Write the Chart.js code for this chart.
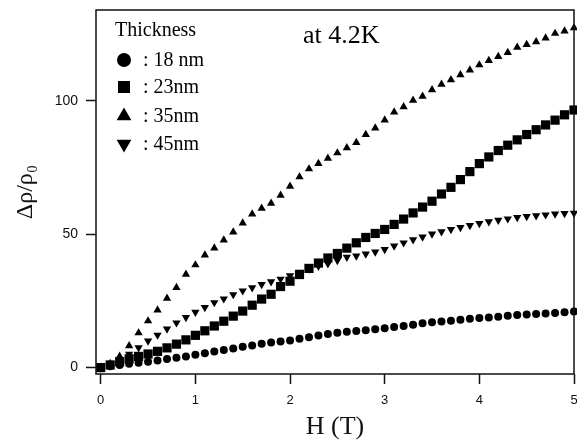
<!DOCTYPE html>
<html>
<head>
<meta charset="utf-8">
<script src="https://cdn.jsdelivr.net/npm/chart.js@4.4.0/dist/chart.umd.min.js"></script>
<style>
html, body { margin: 0; padding: 0; background: #fff; }
</style>
</head>
<body>
<canvas id="mr" width="577" height="445"></canvas>
<script>
// magnetic field H (T)
var field = [0, 0.1, 0.2, 0.3, 0.4, 0.5, 0.6, 0.7, 0.8, 0.9,
             1.0, 1.1, 1.2, 1.3, 1.4, 1.5, 1.6, 1.7, 1.8, 1.9,
             2.0, 2.1, 2.2, 2.3, 2.4, 2.5, 2.6, 2.7, 2.8, 2.9,
             3.0, 3.1, 3.2, 3.3, 3.4, 3.5, 3.6, 3.7, 3.8, 3.9,
             4.0, 4.1, 4.2, 4.3, 4.4, 4.5, 4.6, 4.7, 4.8, 4.9, 5.0];

// delta rho / rho0 for each film thickness
var mr18 = [0, 0.5, 1.0, 1.4, 1.8, 2.2, 2.7, 3.2, 3.7, 4.2,
            4.8, 5.4, 6.0, 6.6, 7.2, 7.8, 8.3, 8.9, 9.4, 9.8,
            10.2, 10.8, 11.4, 12.0, 12.6, 13.1, 13.4, 13.7, 14.0, 14.4,
            14.8, 15.2, 15.6, 16.1, 16.6, 17.0, 17.3, 17.6, 17.9, 18.3,
            18.6, 18.8, 19.1, 19.4, 19.7, 19.9, 20.1, 20.3, 20.5, 20.8, 21.0];
var mr23 = [0, 1.0, 2.2, 3.3, 4.2, 5.1, 6.1, 7.4, 8.8, 10.4,
            12.1, 13.8, 15.6, 17.4, 19.3, 21.2, 23.4, 25.7, 27.5, 30.4,
            32.4, 34.9, 37.2, 39.2, 41.1, 42.8, 44.8, 46.8, 48.8, 50.3,
            51.8, 53.7, 55.7, 58.0, 60.2, 62.4, 65.1, 67.6, 70.5, 73.5,
            76.5, 79.0, 81.4, 83.4, 85.4, 87.4, 89.2, 91.0, 92.8, 94.8, 96.6];
var mr35 = [0, 1.5, 4.2, 8.2, 13.0, 17.5, 21.6, 26.0, 30.0, 35.0,
            38.5, 42.2, 44.8, 47.8, 50.8, 54.2, 57.6, 59.7, 61.6, 64.6,
            68.0, 71.5, 74.5, 76.5, 78.5, 80.5, 82.4, 84.4, 87.4, 89.8,
            92.8, 95.8, 97.8, 100.2, 101.7, 104.2, 106.2, 107.9, 109.8, 111.6,
            113.5, 115.1, 116.6, 118.1, 120.1, 121.1, 122.2, 123.6, 125.3, 126.2, 127.4];
var mr45 = [0, 1.0, 3.0, 5.0, 7.5, 10.0, 12.2, 14.5, 16.8, 18.8,
            20.8, 22.6, 24.4, 25.8, 27.4, 28.8, 30.0, 31.2, 32.2, 33.2,
            34.5, 35.8, 37.0, 38.0, 39.0, 40.2, 41.4, 41.9, 42.6, 43.4,
            44.3, 45.6, 46.8, 48.0, 49.0, 50.1, 51.0, 51.8, 52.6, 53.3,
            54.1, 54.7, 55.3, 55.8, 56.3, 56.7, 57.0, 57.3, 57.6, 57.8, 57.9];

var thickness = ['18 nm', '23nm', '35nm', '45nm'];
var xTicks = [0, 1, 2, 3, 4, 5];
var yTicks = [0, 50, 100];

function pairs(ys) {
  return field.map(function(h, i) { return {x: h, y: ys[i]}; });
}

function series(label, ys, style, r, rot) {
  return {
    label: label,
    data: pairs(ys),
    pointStyle: style,
    pointRadius: r,
    pointRotation: rot || 0,
    pointBackgroundColor: '#000',
    pointBorderColor: '#000',
    pointBorderWidth: 0,
    showLine: false,
    clip: false
  };
}

var ink = '#111';

// frame, legend and the temperature note
var paperDecor = {
  id: 'paperDecor',
  afterDraw: function(chart) {
    var ctx = chart.ctx, a = chart.chartArea;
    ctx.save();
    ctx.strokeStyle = ink;
    ctx.lineWidth = 1.5;
    ctx.strokeRect(a.left, a.top, a.right - a.left, a.bottom - a.top);

    ctx.fillStyle = '#000';
    ctx.textBaseline = 'alphabetic';
    ctx.font = '20px "Liberation Serif"';
    ctx.fillText('Thickness', 115, 36);

    var rows = [60, 87, 116, 144];
    var sizes = [7, 8.5, 8.5, 8.5];
    chart.data.datasets.forEach(function(ds, i) {
      Chart.helpers.drawPoint(ctx, {
        pointStyle: ds.pointStyle,
        rotation: ds.pointRotation,
        radius: sizes[i],
        borderWidth: 0
      }, 124, rows[i]);
      ctx.fillText(': ' + ds.label, 143, rows[i] + 6);
    });

    ctx.font = '26px "Liberation Serif"';
    ctx.fillText('at 4.2K', 303, 43);
    ctx.restore();
  }
};

var axisGrid = {
  display: true,
  drawOnChartArea: false,
  drawTicks: true,
  tickLength: 10,
  tickWidth: 1.5,
  tickColor: ink,
  color: ink
};

new Chart(document.getElementById('mr').getContext('2d'), {
  type: 'scatter',
  data: {
    datasets: [
      series(thickness[0], mr18, 'circle', 4),
      series(thickness[1], mr23, 'rect', 6.5),
      series(thickness[2], mr35, 'triangle', 4.8),
      series(thickness[3], mr45, 'triangle', 4.8, 180)
    ]
  },
  options: {
    responsive: false,
    animation: false,
    devicePixelRatio: 1,
    layout: { autoPadding: false, padding: { left: 0, right: 3, top: 10, bottom: 0 } },
    plugins: {
      legend: { display: false },
      tooltip: { enabled: false }
    },
    scales: {
      x: {
        type: 'linear',
        min: -0.05,
        max: 5,
        afterBuildTicks: function(s) { s.ticks = xTicks.map(function(v) { return {value: v}; }); },
        afterFit: function(s) {
          s.height = 71;
          s.paddingLeft = 0;
          s.paddingRight = 0;
        },
        grid: axisGrid,
        border: { display: false },
        ticks: {
          color: ink,
          padding: 9,
          maxRotation: 0,
          font: { family: '"Liberation Sans"', size: 13 }
        },
        title: {
          display: true,
          text: 'H (T)',
          color: ink,
          font: { family: '"Liberation Serif"', size: 26 },
          padding: { top: 0, bottom: 2 }
        }
      },
      y: {
        type: 'linear',
        min: -2.4,
        max: 134.1,
        afterBuildTicks: function(s) { s.ticks = yTicks.map(function(v) { return {value: v}; }); },
        afterFit: function(s) {
          s.width = 96;
          s.paddingTop = 0;
          s.paddingBottom = 0;
        },
        grid: axisGrid,
        border: { display: false },
        ticks: {
          color: ink,
          padding: 8,
          font: { family: '"Liberation Sans"', size: 14 }
        },
        title: {
          display: true,
          text: 'Δρ/ρ₀',
          color: ink,
          font: { family: '"Liberation Serif"', size: 24 },
          padding: { top: 11, bottom: 0 }
        }
      }
    }
  },
  plugins: [paperDecor]
});
</script>
</body>
</html>
